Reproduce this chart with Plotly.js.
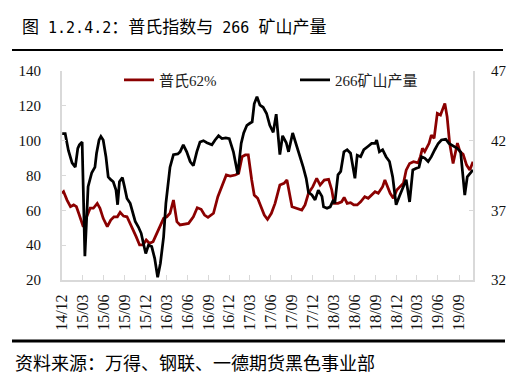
<!DOCTYPE html>
<html>
<head>
<meta charset="utf-8">
<script src="https://cdn.plot.ly/plotly-3.0.1.min.js"></script>
<style>
html,body{margin:0;padding:0;background:#fff;}
#chart{width:526px;height:386px;}
</style>
</head>
<body>
<div id="chart"></div>
<script>
// ---- data ----
var titleParts = ["图", " 1.2.4.2", "：普氏指数与", " 266 ", "矿山产量"];
var sourceText = "资料来源：万得、钢联、一德期货黑色事业部";
var plattsName = "普氏62%";
var mineName = "266矿山产量";

var plattsDates = ['2014-12-01','2014-12-08','2014-12-23','2015-01-07','2015-01-21','2015-02-02','2015-02-12','2015-02-22','2015-03-04','2015-03-19','2015-04-03','2015-04-17','2015-05-04','2015-05-16','2015-05-30','2015-06-17','2015-07-02','2015-07-16','2015-07-31','2015-08-12','2015-08-27','2015-09-11','2015-09-25','2015-10-09','2015-10-21','2015-11-05','2015-11-20','2015-12-04','2015-12-18','2016-01-03','2016-01-20','2016-02-04','2016-02-18','2016-03-03','2016-03-17','2016-04-01','2016-04-16','2016-04-30','2016-05-22','2016-06-06','2016-06-27','2016-07-14','2016-07-31','2016-08-15','2016-08-30','2016-09-23','2016-10-12','2016-10-30','2016-11-18','2016-12-05','2016-12-27','2017-01-11','2017-01-26','2017-02-09','2017-02-22','2017-03-09','2017-03-20','2017-04-04','2017-04-20','2017-05-03','2017-05-17','2017-06-03','2017-06-19','2017-07-10','2017-07-28','2017-08-10','2017-09-01','2017-09-22','2017-10-14','2017-10-28','2017-11-12','2017-12-01','2017-12-18','2018-01-02','2018-01-20','2018-02-08','2018-02-22','2018-03-04','2018-03-21','2018-04-06','2018-04-17','2018-04-30','2018-05-15','2018-05-29','2018-06-13','2018-06-28','2018-07-16','2018-07-31','2018-08-15','2018-08-30','2018-09-13','2018-10-02','2018-10-12','2018-10-22','2018-11-04','2018-11-18','2018-12-03','2018-12-17','2019-01-01','2019-01-13','2019-01-28','2019-02-14','2019-03-06','2019-03-16','2019-03-25','2019-04-04','2019-04-23','2019-05-03','2019-05-15','2019-05-29','2019-06-12','2019-07-01','2019-07-11','2019-07-22','2019-08-06','2019-08-25','2019-09-05','2019-09-19','2019-10-04','2019-10-18','2019-11-01'];
var plattsValues = [69.8,70.7,65.9,62.1,63.1,62.1,58.3,54.4,50.6,56.3,61.2,61.2,64.0,61.2,55.4,50.6,54.4,56.3,56.3,58.9,56.7,56.3,52.5,47.7,44.9,40.1,40.1,43.0,41.1,42.0,46.8,51.6,55.4,56.3,58.3,65.9,53.5,51.6,52.1,52.5,56.3,61.5,60.6,57.3,56.0,58.3,67.8,74.5,80.3,79.7,80.3,81.2,90.8,91.8,91.8,77.4,68.8,66.9,61.2,57.3,54.8,58.3,64.0,74.5,75.5,77.4,62.1,61.2,60.2,63.1,69.8,73.6,78.4,74.5,77.4,77.8,71.7,64.0,64.0,64.9,67.4,64.0,64.4,63.1,63.1,64.9,67.8,66.9,68.8,70.7,69.8,73.6,77.4,74.5,69.8,66.9,71.7,73.6,75.5,83.1,86.9,87.9,87.3,90.8,95.6,93.7,98.5,103.2,101.3,115.7,114.7,121.4,113.7,98.5,86.9,98.6,93.7,92.2,86.0,83.1,87.9];

var mineDates = ['2014-12-02','2014-12-15','2014-12-29','2015-01-14','2015-01-28','2015-02-08','2015-02-15','2015-02-27','2015-03-11','2015-03-25','2015-04-10','2015-04-24','2015-05-01','2015-05-12','2015-05-20','2015-05-30','2015-06-11','2015-06-21','2015-07-02','2015-07-13','2015-07-25','2015-08-01','2015-08-09','2015-08-22','2015-08-31','2015-09-11','2015-09-25','2015-10-07','2015-10-17','2015-10-31','2015-11-12','2015-11-22','2015-12-02','2015-12-14','2015-12-28','2016-01-10','2016-01-23','2016-02-04','2016-02-18','2016-02-28','2016-03-10','2016-03-17','2016-04-01','2016-04-20','2016-04-30','2016-05-14','2016-05-29','2016-06-13','2016-06-27','2016-07-12','2016-07-26','2016-08-10','2016-08-25','2016-09-16','2016-09-30','2016-10-15','2016-10-30','2016-11-16','2016-12-01','2016-12-19','2017-01-07','2017-01-22','2017-02-02','2017-02-16','2017-03-01','2017-03-11','2017-03-20','2017-04-01','2017-04-14','2017-04-28','2017-05-13','2017-05-27','2017-06-11','2017-06-24','2017-07-10','2017-07-22','2017-08-07','2017-08-17','2017-09-04','2017-09-21','2017-10-06','2017-10-20','2017-11-02','2017-11-12','2017-11-27','2017-12-11','2017-12-25','2018-01-10','2018-01-17','2018-02-01','2018-02-15','2018-03-01','2018-03-07','2018-03-21','2018-04-02','2018-04-16','2018-04-30','2018-05-15','2018-06-03','2018-06-13','2018-06-28','2018-07-12','2018-07-31','2018-08-15','2018-08-30','2018-09-06','2018-09-18','2018-10-02','2018-10-17','2018-11-01','2018-11-15','2018-11-30','2018-12-14','2018-12-29','2019-01-13','2019-01-28','2019-02-11','2019-02-24','2019-03-10','2019-03-21','2019-04-04','2019-04-19','2019-05-03','2019-05-18','2019-06-02','2019-06-16','2019-07-05','2019-07-19','2019-08-06','2019-08-24','2019-09-08','2019-09-17','2019-09-26','2019-10-07','2019-10-18','2019-11-01'];
var mineValues = [42.5,42.5,41.3,40.4,40.1,41.45,41.7,41.9,33.7,38.7,39.7,40.1,41.1,42.05,42.3,42.05,40.85,39.4,39.2,39.05,38.45,37.4,39.05,39.35,38.7,37.85,37.5,36.7,36.2,35.8,35.35,34.6,33.9,34.5,34.4,33.55,32.2,33.2,35.1,37.5,39.3,40.1,41.0,41.05,41.2,41.7,41.2,40.5,40.2,41.2,41.9,42.0,41.85,41.7,42.05,42.35,42.15,42.2,42.15,41.2,39.6,41.8,42.55,43.1,43.25,43.35,44.65,45.15,44.55,44.4,43.95,43.1,42.6,43.9,41.0,42.35,41.85,41.2,42.55,41.7,40.85,40.1,39.3,38.3,38.1,37.75,38.45,38.0,37.25,37.15,37.25,37.75,37.5,39.55,39.8,41.2,41.35,41.1,39.3,40.95,40.85,41.35,41.6,41.8,41.8,42.05,41.2,41.35,40.85,40.5,39.4,37.4,38.0,38.6,39.2,37.6,39.9,40.0,40.1,40.85,40.75,40.5,40.85,41.35,41.8,42.05,42.1,41.8,41.6,41.45,41.2,39.65,38.1,39.4,39.65,39.9];

var xRange = ['2014-12-01','2019-11-01'];
var leftRange = [20,140];
var rightRange = [32,47];

// ---- chart ----
var axisGray = '#d9d9d9';
var serif = 'Liberation Serif, DejaVu Serif, serif';
var cjk = 'Noto Sans CJK SC';
var mono = 'DejaVu Sans Mono';

function monoSpan(s){ return '<span style="font-family:' + mono + ';font-size:15px">' + s.replace(/ /g, '&nbsp;') + '</span>'; }
var titleText = titleParts[0] + monoSpan(titleParts[1]) + titleParts[2] + monoSpan(titleParts[3]) + titleParts[4];

var traces = [
  {x: plattsDates, y: plattsValues, name: plattsName, type: 'scatter', mode: 'lines',
   line: {color: '#8b0000', width: 2.75}, yaxis: 'y'},
  {x: mineDates, y: mineValues, name: mineName, type: 'scatter', mode: 'lines',
   line: {color: '#000000', width: 2.75}, yaxis: 'y2'}
];

var W = 526, H = 386;
var L = 62, R = 53, T = 71, B = 106;
var pw = W - L - R, ph = H - T - B;
function px(x){ return (x - L) / pw; }
function py(y){ return (H - B - y) / ph; }

var layout = {
  width: W, height: H,
  margin: {l: L, r: R, t: T, b: B, pad: 0},
  paper_bgcolor: '#fff', plot_bgcolor: '#fff',
  showlegend: true,
  title: {text: titleText, x: 22 / W, xref: 'container', xanchor: 'left',
          y: 1 - 27 / H, yref: 'container', yanchor: 'middle',
          font: {family: cjk, size: 17, color: '#000'}},
  xaxis: {type: 'date', range: xRange, tick0: '2014-12-01', dtick: 'M3', tickformat: '%y/%m',
          tickangle: -90, ticks: 'inside', ticklen: 5, tickwidth: 1, tickcolor: axisGray,
          showline: true, linecolor: axisGray, linewidth: 2, showgrid: false, zeroline: false,
          tickfont: {family: serif, size: 16, color: '#111'}, ticklabelstandoff: 6},
  yaxis: {range: leftRange, dtick: 20, tick0: 20, ticks: 'inside', ticklen: 4, tickwidth: 1,
          tickcolor: axisGray, showline: true, linecolor: axisGray, linewidth: 2,
          showgrid: false, zeroline: false,
          tickfont: {family: serif, size: 15, color: '#111'}, ticklabelstandoff: 16},
  yaxis2: {range: rightRange, dtick: 5, tick0: 32, overlaying: 'y', side: 'right',
           ticks: 'inside', ticklen: 4, tickwidth: 1, tickcolor: axisGray,
           showline: true, linecolor: axisGray, linewidth: 2, showgrid: false, zeroline: false,
           tickfont: {family: serif, size: 15, color: '#111'}, ticklabelstandoff: 13},
  legend: {orientation: 'h', x: px(119), xanchor: 'left', y: 1.035, yanchor: 'top',
           bgcolor: 'rgba(0,0,0,0)', font: {family: 'Liberation Serif, Noto Sans CJK SC, serif', size: 15, color: '#222'},
           entrywidth: 131, entrywidthmode: 'pixels', traceorder: 'normal'},
  shapes: [
    {type: 'line', xref: 'paper', yref: 'paper', x0: px(12), x1: px(503), y0: py(50), y1: py(50),
     line: {color: '#000', width: 2}},
    {type: 'line', xref: 'paper', yref: 'paper', x0: px(12), x1: px(505), y0: py(341), y1: py(341),
     line: {color: '#000', width: 3}}
  ],
  annotations: [
    {text: sourceText, xref: 'paper', yref: 'paper', x: px(13), xanchor: 'left',
     y: py(362), yanchor: 'middle', showarrow: false,
     font: {family: cjk, size: 18, color: '#000'}}
  ]
};

Plotly.newPlot('chart', traces, layout, {displayModeBar: false, staticPlot: true});
</script>
</body>
</html>
